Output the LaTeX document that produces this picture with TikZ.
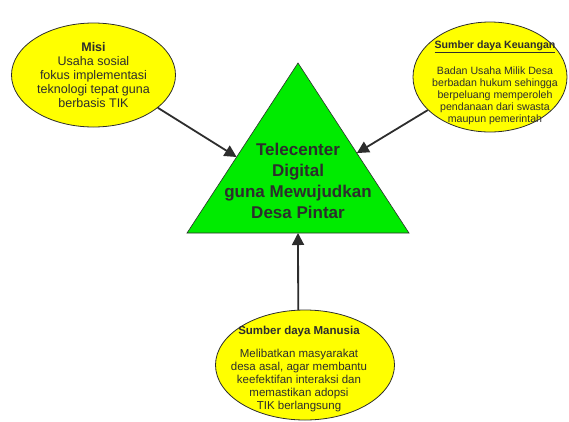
\documentclass[tikz,border=0pt]{standalone}
\usepackage{fontspec}
\setmainfont{Liberation Sans}
\usetikzlibrary{arrows.meta,calc,shapes.geometric}
\definecolor{bubyellow}{RGB}{255,255,0}
\definecolor{trigreen}{RGB}{0,235,0}
\definecolor{inkgray}{RGB}{45,45,45}

\begin{document}
\begin{tikzpicture}[x=1pt,y=-1pt,
  bubble/.style={ellipse,draw=inkgray,line width=0.8pt,fill=bubyellow,inner sep=0pt},
  bubtext/.style={align=center,text=inkgray,inner sep=0pt},
  arr/.style={draw=inkgray,line width=1.8pt,-{Triangle[length=12pt,width=12pt]}}]

  \useasboundingbox (0,0) rectangle (569,421);

  % triangle
  \coordinate (apex) at (298,63);
  \coordinate (bl) at (187,233);
  \coordinate (br) at (409,233);
  \filldraw[fill=trigreen,draw=inkgray,line width=0.6pt] (apex) -- (bl) -- (br) -- cycle;
  \node[bubtext,font=\fontsize{17}{21}\selectfont\bfseries] (tc) at (298,181)
    {Telecenter\\Digital\\guna Mewujudkan\\Desa Pintar};

  \coordinate (tipL) at ($(apex)!0.553!(bl)$);
  \coordinate (tipR) at ($(apex)!0.53!(br)$);
  \coordinate (tipB) at ($(bl)!0.5!(br)$);

  % ellipses
  \node[bubble,minimum width=164pt,minimum height=104pt] (misi) at (93.5,75) {};
  \node[bubble,minimum width=154pt,minimum height=110pt] (keu) at (490,77) {};
  \node[bubble,minimum width=179pt,minimum height=110pt] (sdm) at (305,365) {};

  \node[bubtext,font=\fontsize{12.5}{14}\selectfont] (misitxt) at (misi)
    {\textbf{Misi}\\Usaha sosial\\fokus implementasi\\teknologi tepat guna\\berbasis TIK};
  \node[bubtext,font=\fontsize{10.6}{12}\selectfont] (keutxt) at ([xshift=5pt,yshift=-6pt]keu.center)
    {\underline{\textbf{Sumber daya Keuangan}}\\[14pt]Badan Usaha Milik Desa\\berbadan hukum sehingga\\berpeluang memperoleh\\pendanaan dari swasta\\maupun pemerintah};
  \node[bubtext,font=\fontsize{11.5}{13}\selectfont] (sdmtxt) at ([xshift=-6pt,yshift=-4pt]sdm.center)
    {\textbf{Sumber daya Manusia}\\[10pt]Melibatkan masyarakat\\desa asal, agar membantu\\keefektifan interaksi dan\\memastikan adopsi\\TIK berlangsung};

  % arrows
  \draw[arr] (misi.-27) -- (tipL);
  \draw[arr] (keu.208) -- (tipR);
  \draw[arr] (sdm.97) -- (tipB);

\end{tikzpicture}
\end{document}
